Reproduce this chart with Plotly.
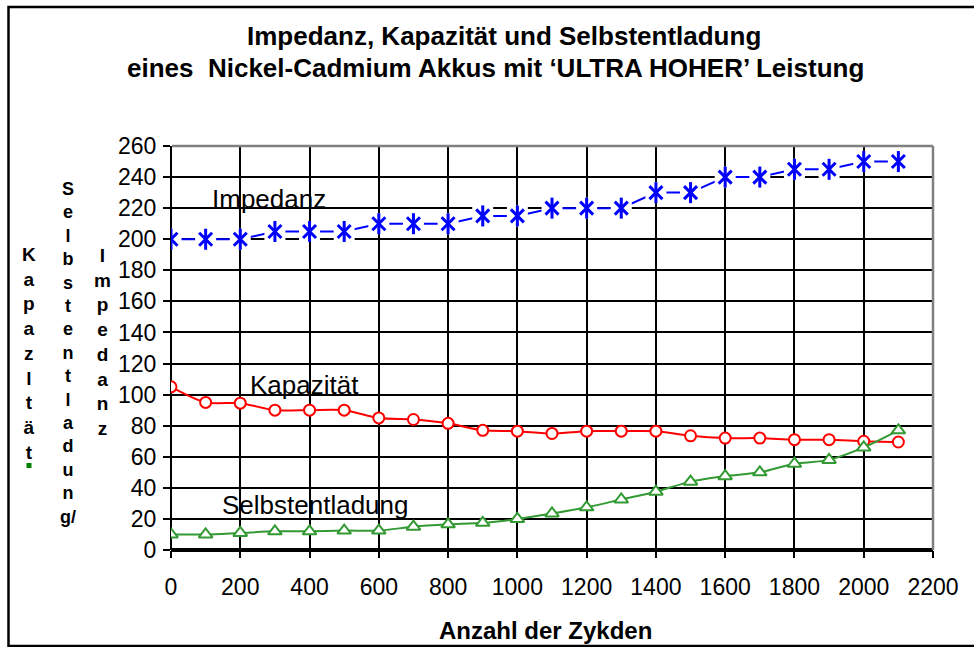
import plotly.graph_objects as go

zyklen = [0, 100, 200, 300, 400, 500, 600, 700, 800, 900, 1000,
          1100, 1200, 1300, 1400, 1500, 1600, 1700, 1800, 1900, 2000, 2100]
impedanz = [200, 200, 200, 205, 205, 205, 210, 210, 210, 215, 215,
            220, 220, 220, 230, 230, 240, 240, 245, 245, 250, 250]
kapazitaet = [105, 95, 94.5, 90, 90, 90, 85, 84, 81.5, 77, 76.5,
              75, 76.5, 76.5, 76.5, 73.5, 72, 72, 71, 71, 70, 69.5]
selbstentladung = [10, 10, 11, 12, 12, 12.5, 12.5, 15, 16.5, 17.5, 20,
                   23.5, 27.5, 32.5, 37.5, 44, 47.5, 50, 55.5, 58, 66, 77]

x_ticks = [0, 200, 400, 600, 800, 1000, 1200, 1400, 1600, 1800, 2000, 2200]
y_ticks = [0, 20, 40, 60, 80, 100, 120, 140, 160, 180, 200, 220, 240, 260]

FONT = "Liberation Sans, Arial, Helvetica, sans-serif"
BLUE = "#0000FF"
RED = "#FF0000"
GREEN = "#339933"

# plot area in pixels
L, R, T, B = 171, 933, 146, 550
W, H = 974, 647


def px(xp):
    return (xp - L) / (R - L)


def py(yp):
    return (B - yp) / (B - T)


fig = go.Figure()

# Impedanz: line, white knockouts, star markers
fig.add_trace(go.Scatter(x=zyklen, y=impedanz, mode="lines",
                         line=dict(color=BLUE, width=2), hoverinfo="skip",
                         showlegend=False))
fig.add_trace(go.Scatter(x=zyklen, y=impedanz, mode="markers",
                         marker=dict(symbol="square", size=21, color="white",
                                     line=dict(width=0)),
                         hoverinfo="skip", showlegend=False))
fig.add_trace(go.Scatter(x=zyklen, y=impedanz, mode="markers",
                         marker=dict(symbol="x-thin-open", size=13, color=BLUE,
                                     line=dict(color=BLUE, width=3)),
                         name="Impedanz", showlegend=False))
fig.add_trace(go.Scatter(x=zyklen, y=impedanz, mode="markers",
                         marker=dict(symbol="line-ns-open", size=15, color=BLUE,
                                     line=dict(color=BLUE, width=3)),
                         hoverinfo="skip", showlegend=False))

# Kapazität
fig.add_trace(go.Scatter(x=zyklen, y=kapazitaet, mode="lines+markers",
                         line=dict(color=RED, width=2, shape="spline", smoothing=0.8),
                         marker=dict(symbol="circle", size=11, color="white",
                                     line=dict(color=RED, width=2)),
                         name="Kapazität", showlegend=False))

# Selbstentladung
fig.add_trace(go.Scatter(x=zyklen, y=selbstentladung, mode="lines+markers",
                         line=dict(color=GREEN, width=2, shape="spline", smoothing=0.8),
                         marker=dict(symbol="triangle-up", size=12, color="white",
                                     line=dict(color=GREEN, width=2)),
                         name="Selbstentladung", showlegend=False))

annotations = [
    dict(text="<b>Impedanz, Kapazität und Selbstentladung</b>", x=px(504), y=py(36),
         font=dict(size=26, color="black", family=FONT)),
    dict(text="<b>eines  Nickel-Cadmium Akkus mit ‘ULTRA HOHER’ Leistung</b>",
         x=px(495), y=py(68), font=dict(size=26, color="black", family=FONT)),
    dict(text="<b>Anzahl der Zykden</b>", x=px(545), y=py(630),
         font=dict(size=24, color="black", family=FONT)),
    dict(text="<b>" + "<br>".join(list("Kapazltät")) + "</b>", x=px(29), y=py(353),
         font=dict(size=19, color="black", family=FONT)),
    dict(text="<b>" + "<br>".join(list("Selbstentladun") + ["g/"]) + "</b>",
         x=px(68), y=py(353), font=dict(size=18, color="black", family=FONT)),
    dict(text="<b>" + "<br>".join(list("Impedanz")) + "</b>", x=px(102), y=py(341.5),
         font=dict(size=19, color="black", family=FONT)),
]
for a in annotations:
    a.update(xref="paper", yref="paper", showarrow=False, xanchor="center",
             yanchor="middle", align="center")

# series labels inside the plot
for txt, xp, yp in [("Impedanz", 210, 199), ("Kapazität", 248, 385),
                    ("Selbstentladung", 220, 505)]:
    annotations.append(dict(text=txt, xref="paper", yref="paper", x=px(xp), y=py(yp),
                            xanchor="left", yanchor="middle", showarrow=False,
                            font=dict(size=26, color="black", family=FONT)))

shapes = [
    # outer frame
    dict(type="rect", xref="paper", yref="paper", x0=px(8.5), x1=px(990),
         y0=py(646), y1=py(7), line=dict(color="black", width=2.5), layer="below"),
    # plot border top / right (gray)
    dict(type="line", xref="paper", yref="paper", x0=px(172), x1=px(933),
         y0=1, y1=1, line=dict(color="#808080", width=2.5), layer="above"),
    dict(type="line", xref="paper", yref="paper", x0=1, x1=1,
         y0=0, y1=1, line=dict(color="#808080", width=2.5), layer="above"),
    # small green square
    dict(type="rect", xref="paper", yref="paper", x0=px(26.5), x1=px(31.5),
         y0=py(468), y1=py(463), fillcolor="#008000", line=dict(width=0)),
]

fig.update_layout(
    width=W, height=H,
    margin=dict(l=L, r=W - R, t=T, b=H - B),
    paper_bgcolor="white", plot_bgcolor="white",
    font=dict(family=FONT, color="black"),
    annotations=annotations, shapes=shapes,
    xaxis=dict(range=[0, 2200], tickvals=x_ticks, ticktext=[str(v) for v in x_ticks],
               showgrid=True, gridcolor="black", gridwidth=1.5,
               zeroline=True, zerolinecolor="black", zerolinewidth=1.5,
               showline=False, ticks="outside", ticklen=7, tickwidth=1.5,
               tickcolor="black", tickfont=dict(size=23, family=FONT, color="black"),
               ticklabelstandoff=9, fixedrange=True),
    yaxis=dict(range=[0, 260], tickvals=y_ticks, ticktext=[str(v) for v in y_ticks],
               showgrid=True, gridcolor="black", gridwidth=1.5,
               zeroline=True, zerolinecolor="black", zerolinewidth=3.5,
               showline=False, ticks="outside", ticklen=7, tickwidth=1.5,
               tickcolor="black", tickfont=dict(size=23, family=FONT, color="black"),
               ticklabelstandoff=2, fixedrange=True),
)

fig.write_html("out.html", config={"displayModeBar": False},
               post_script="document.body.style.margin='0';document.body.style.overflow='hidden';")
